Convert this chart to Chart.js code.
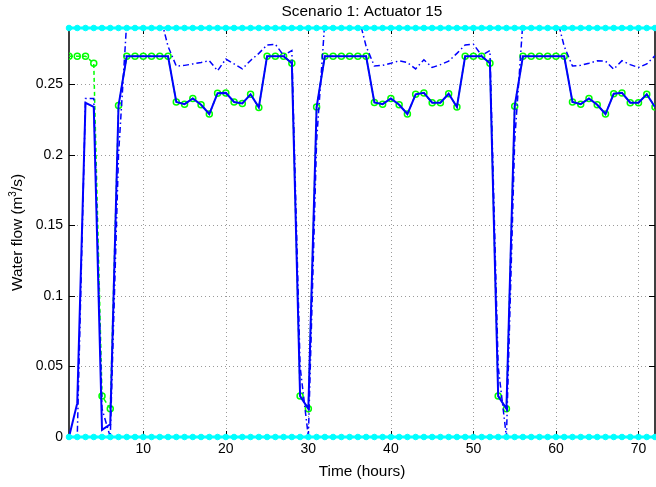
<!DOCTYPE html>
<html><head><meta charset="utf-8">
<script src="https://cdn.jsdelivr.net/npm/chart.js@4"></script>
<style>html,body{margin:0;padding:0;background:#fff;}canvas{display:block;}</style>
</head><body>
<canvas id="c" width="656" height="487"></canvas>
<script>
const hours = [1,2,3,4,5,6,7,8,9,10,11,12,13,14,15,16,17,18,19,20,21,22,23,24,
25,26,27,28,29,30,31,32,33,34,35,36,37,38,39,40,41,42,43,44,45,46,47,48,
49,50,51,52,53,54,55,56,57,58,59,60,61,62,63,64,65,66,67,68,69,70,71,72];

const optimalFlow = [0.27,0.27,0.27,0.265,0.029,0.02,0.235,
0.27,0.27,0.27,0.27,0.27,0.27,
0.2375,0.236,0.240,0.2356,0.229,0.2438,0.244,0.2375,0.2365,0.243,0.2337,
0.27,0.27,0.27,0.265,0.029,0.02,0.234,
0.27,0.27,0.27,0.27,0.27,0.27,
0.2372,0.236,0.240,0.2356,0.229,0.243,0.244,0.237,0.237,0.2434,0.234,
0.27,0.27,0.27,0.265,0.029,0.02,0.2346,
0.27,0.27,0.27,0.27,0.27,0.27,
0.2375,0.236,0.240,0.2356,0.229,0.2434,0.244,0.237,0.237,0.243,0.234];

const actualFlow = [0,0.024,0.237,0.234,0.005,0.009,0.235,
0.27,0.27,0.27,0.27,0.27,0.27,
0.2375,0.236,0.240,0.2356,0.229,0.2438,0.244,0.2375,0.2365,0.243,0.2337,
0.27,0.27,0.27,0.265,0.029,0.02,0.234,
0.27,0.27,0.27,0.27,0.27,0.27,
0.2372,0.236,0.240,0.2356,0.229,0.243,0.244,0.237,0.237,0.2434,0.234,
0.27,0.27,0.27,0.265,0.029,0.02,0.2346,
0.27,0.27,0.27,0.27,0.27,0.27,
0.2375,0.236,0.240,0.2356,0.229,0.2434,0.244,0.237,0.237,0.243,0.234];

const predictedFlow = [0,0,0.24,0.24,0.02,0,0.2,
0.295,0.31,0.31,0.31,0.30,0.277,
0.263,0.2635,0.2645,0.2655,0.2668,0.2597,0.268,0.2645,0.261,0.267,0.272,
0.278,0.2785,0.2705,0.274,0.05,0,0.21,
0.295,0.31,0.31,0.31,0.30,0.277,
0.263,0.2635,0.265,0.2667,0.2655,0.261,0.2675,0.262,0.264,0.2665,0.272,
0.278,0.2785,0.2705,0.274,0.05,0,0.21,
0.295,0.31,0.31,0.31,0.30,0.277,
0.263,0.2635,0.265,0.2667,0.2665,0.2608,0.2668,0.264,0.262,0.2645,0.2703];

const maxFlow = [0.29,0.29,0.29,0.29,0.29,0.29,0.29,0.29,0.29,0.29,0.29,0.29,
0.29,0.29,0.29,0.29,0.29,0.29,0.29,0.29,0.29,0.29,0.29,0.29,
0.29,0.29,0.29,0.29,0.29,0.29,0.29,0.29,0.29,0.29,0.29,0.29,
0.29,0.29,0.29,0.29,0.29,0.29,0.29,0.29,0.29,0.29,0.29,0.29,
0.29,0.29,0.29,0.29,0.29,0.29,0.29,0.29,0.29,0.29,0.29,0.29,
0.29,0.29,0.29,0.29,0.29,0.29,0.29,0.29,0.29,0.29,0.29,0.29];

const minFlow = [0,0,0,0,0,0,0,0,0,0,0,0,
0,0,0,0,0,0,0,0,0,0,0,0,
0,0,0,0,0,0,0,0,0,0,0,0,
0,0,0,0,0,0,0,0,0,0,0,0,
0,0,0,0,0,0,0,0,0,0,0,0,
0,0,0,0,0,0,0,0,0,0,0,0];

const xTicks = [10,20,30,40,50,60,70];
const yTicks = [0,0.05,0.1,0.15,0.2,0.25];
const yTickLabels = ["0","0.05","0.1","0.15","0.2","0.25"];
const xMin = 1, xMax = 72, yMin = 0, yMax = 0.29;

const FONT = '"Liberation Sans", Arial, Helvetica, sans-serif';
const pts = arr => hours.map((h,i)=>({x:h,y:arr[i]}));

const frame = {
  id:'frame',
  beforeDatasetsDraw(chart){
    const {ctx, chartArea:a, scales:{x,y}} = chart;
    ctx.save();
    ctx.strokeStyle='#9a9a9a'; ctx.lineWidth=1; ctx.setLineDash([1,3]);
    xTicks.forEach(v=>{const px=Math.round(x.getPixelForValue(v))+0.5;
      ctx.beginPath(); ctx.moveTo(px,a.top); ctx.lineTo(px,a.bottom); ctx.stroke();});
    yTicks.forEach(v=>{ if(v===yMin) return; const py=Math.round(y.getPixelForValue(v))+0.5;
      ctx.beginPath(); ctx.moveTo(a.left,py); ctx.lineTo(a.right,py); ctx.stroke();});
    ctx.setLineDash([]);
    ctx.strokeStyle='#000'; ctx.lineWidth=1.5;
    ctx.strokeRect(a.left, a.top, a.right-a.left, a.bottom-a.top);
    ctx.lineWidth=1;
    xTicks.forEach(v=>{const px=Math.round(x.getPixelForValue(v))+0.5;
      ctx.beginPath(); ctx.moveTo(px,a.bottom); ctx.lineTo(px,a.bottom-6);
      ctx.moveTo(px,a.top); ctx.lineTo(px,a.top+6); ctx.stroke();});
    yTicks.forEach(v=>{const py=Math.round(y.getPixelForValue(v))+0.5;
      ctx.beginPath(); ctx.moveTo(a.left,py); ctx.lineTo(a.left+6,py);
      ctx.moveTo(a.right,py); ctx.lineTo(a.right-6,py); ctx.stroke();});
    ctx.restore();
  },
  afterDraw(chart){
    const {ctx, chartArea:a} = chart;
    const cx = (a.left+a.right)/2, cy=(a.top+a.bottom)/2;
    ctx.save();
    ctx.fillStyle='#000';
    ctx.font='15.4px '+FONT; ctx.textAlign='center'; ctx.textBaseline='alphabetic';
    ctx.fillText('Scenario 1: Actuator 15', cx, 16);
    ctx.fillText('Time (hours)', cx, 476);
    ctx.translate(22, cy); ctx.rotate(-Math.PI/2);
    ctx.textAlign='left';
    const p1='Water flow (m', s='3', p2='/s)';
    ctx.font='15.4px '+FONT; const w1=ctx.measureText(p1).width, w2=ctx.measureText(p2).width;
    ctx.font='10px '+FONT; const ws=ctx.measureText(s).width;
    let sx=-(w1+ws+w2)/2;
    ctx.font='15.4px '+FONT; ctx.fillText(p1,sx,0);
    ctx.font='10px '+FONT; ctx.fillText(s,sx+w1,-6);
    ctx.font='15.4px '+FONT; ctx.fillText(p2,sx+w1+ws,0);
    ctx.restore();
  }
};

new Chart(document.getElementById('c'), {
  type:'line',
  data:{datasets:[
    {data:pts(maxFlow), borderColor:'#00FFFF', borderWidth:3, pointRadius:2.8, pointStyle:'circle',
     pointBackgroundColor:'#00FFFF', pointBorderColor:'#00FFFF', pointBorderWidth:1, clip:8},
    {data:pts(minFlow), borderColor:'#00FFFF', borderWidth:3, pointRadius:2.8, pointStyle:'circle',
     pointBackgroundColor:'#00FFFF', pointBorderColor:'#00FFFF', pointBorderWidth:1, clip:8},
    {data:pts(actualFlow), borderColor:'#0000FF', borderWidth:2, pointRadius:0},
    {data:pts(predictedFlow), borderColor:'#0000FF', borderWidth:1.5, borderDash:[6,3,1.5,3], pointRadius:0},
    {data:pts(optimalFlow), borderColor:'#00FF00', borderWidth:1.5, borderDash:[4,3], pointRadius:3,
     pointStyle:'circle', pointBorderColor:'#00FF00', pointBackgroundColor:'rgba(0,0,0,0)', pointBorderWidth:1.5}
  ]},
  options:{
    responsive:false, animation:false, devicePixelRatio:1,
    layout:{autoPadding:false, padding:{top:28,right:1,left:0,bottom:0}},
    elements:{line:{tension:0, fill:false}},
    plugins:{legend:{display:false}, tooltip:{enabled:false}, title:{display:false}},
    scales:{
      x:{type:'linear', min:xMin, max:xMax,
         afterBuildTicks:s=>{s.ticks=xTicks.map(v=>({value:v}));},
         afterFit:s=>{s.height=50; s.paddingLeft=0; s.paddingRight=0;},
         grid:{display:false, drawTicks:false}, border:{display:false},
         ticks:{font:{family:FONT,size:14}, color:'#000', padding:4, maxRotation:0, autoSkip:false,
                callback:v=>String(v)}},
      y:{type:'linear', min:yMin, max:yMax,
         afterBuildTicks:s=>{s.ticks=yTicks.map(v=>({value:v}));},
         afterFit:s=>{s.width=69; s.paddingTop=0; s.paddingBottom=0;},
         grid:{display:false, drawTicks:false}, border:{display:false},
         ticks:{font:{family:FONT,size:14}, color:'#000', padding:6, autoSkip:false,
                callback:(v,i)=>yTickLabels[i]}}
    }
  },
  plugins:[frame]
});
</script>
</body></html>
